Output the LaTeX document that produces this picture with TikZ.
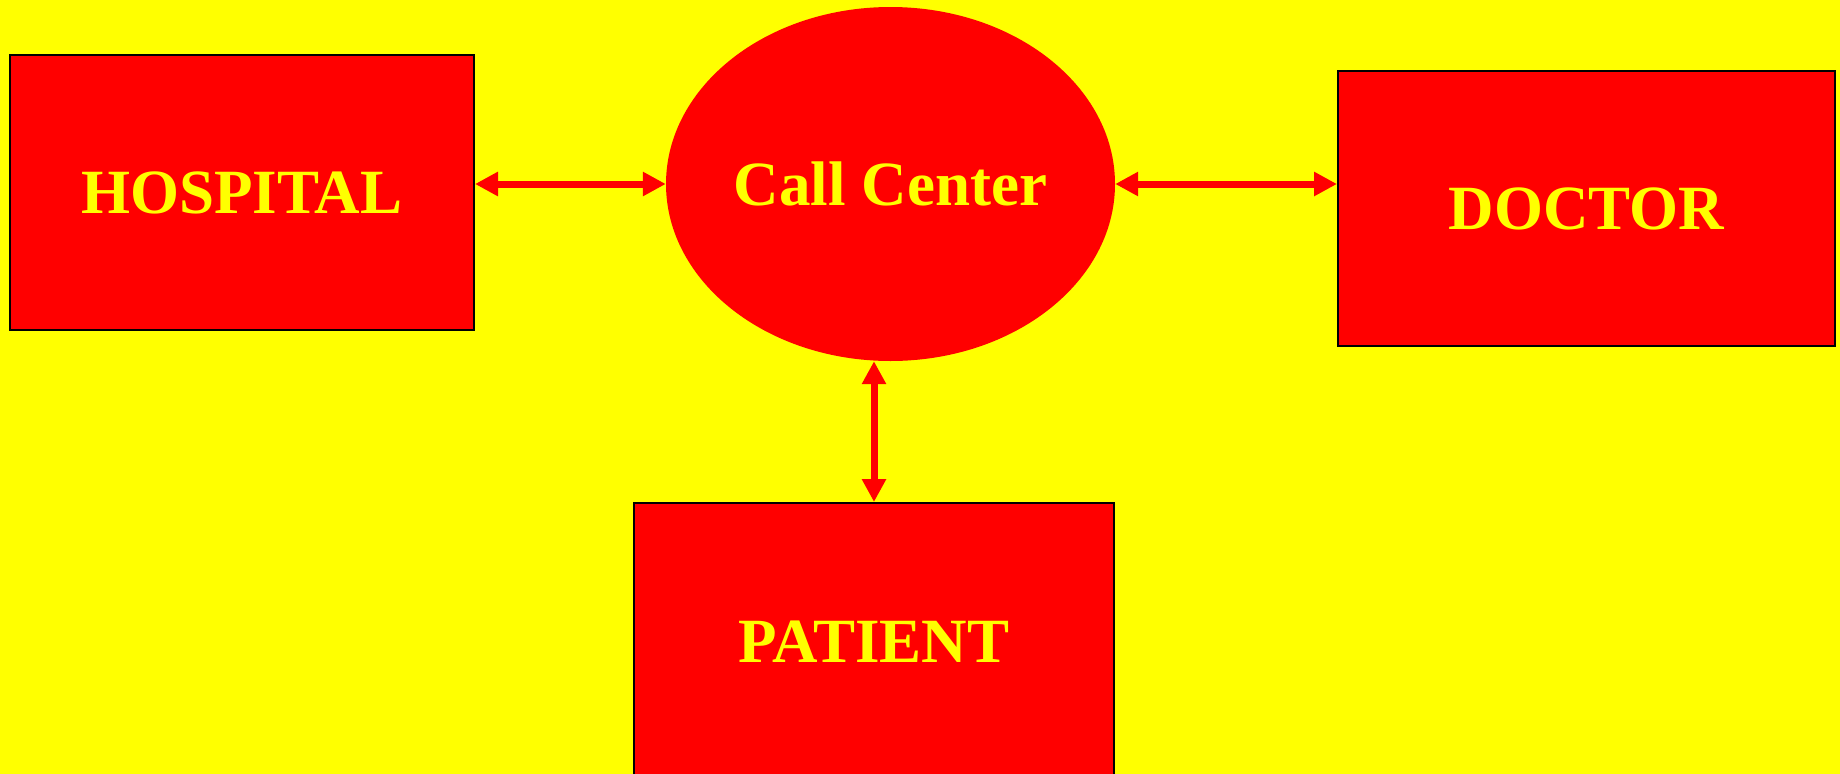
\documentclass[tikz,border=0pt]{standalone}
\usepackage{fontspec}
\setmainfont{Liberation Serif}
\usetikzlibrary{arrows.meta,shapes.geometric}
\definecolor{bgyellow}{HTML}{FFFF00}
\definecolor{boxred}{HTML}{FF0000}
\tikzset{
  box/.style={draw=black, line width=2pt, fill=boxred, inner sep=0pt,
    text=bgyellow, font=\bfseries\fontsize{63}{70}\selectfont},
  oval/.style={ellipse, fill=boxred, inner sep=0pt,
    text=bgyellow, font=\bfseries\fontsize{63}{70}\selectfont},
  arr/.style={draw=boxred, line width=7pt,
    {Triangle[length=23pt,width=23pt]}-{Triangle[length=23pt,width=23pt]}}
}
\begin{document}
\begin{tikzpicture}[x=1pt,y=-1pt]
\fill[bgyellow] (0,0) rectangle (1840,774);
\useasboundingbox (0,0) rectangle (1840,774);
\node[box, minimum width=464.5pt, minimum height=275pt] (hosp) at (241.75,192.5) {HOSPITAL};
\node[oval, minimum width=449pt, minimum height=354pt] (cc) at (890.5,184) {Call Center};
\node[box, minimum width=497pt, minimum height=275pt] (doc) at (1586.5,208.5) {DOCTOR};
\node[box, minimum width=480pt, minimum height=277pt] (pat) at (874,641.5) {PATIENT};
\draw[arr] (hosp.east |- cc.center) -- (cc.west);
\draw[arr] (cc.east) -- (doc.west |- cc.center);
\draw[arr] (pat.north) -- (pat.north |- cc.south);
\end{tikzpicture}
\end{document}
